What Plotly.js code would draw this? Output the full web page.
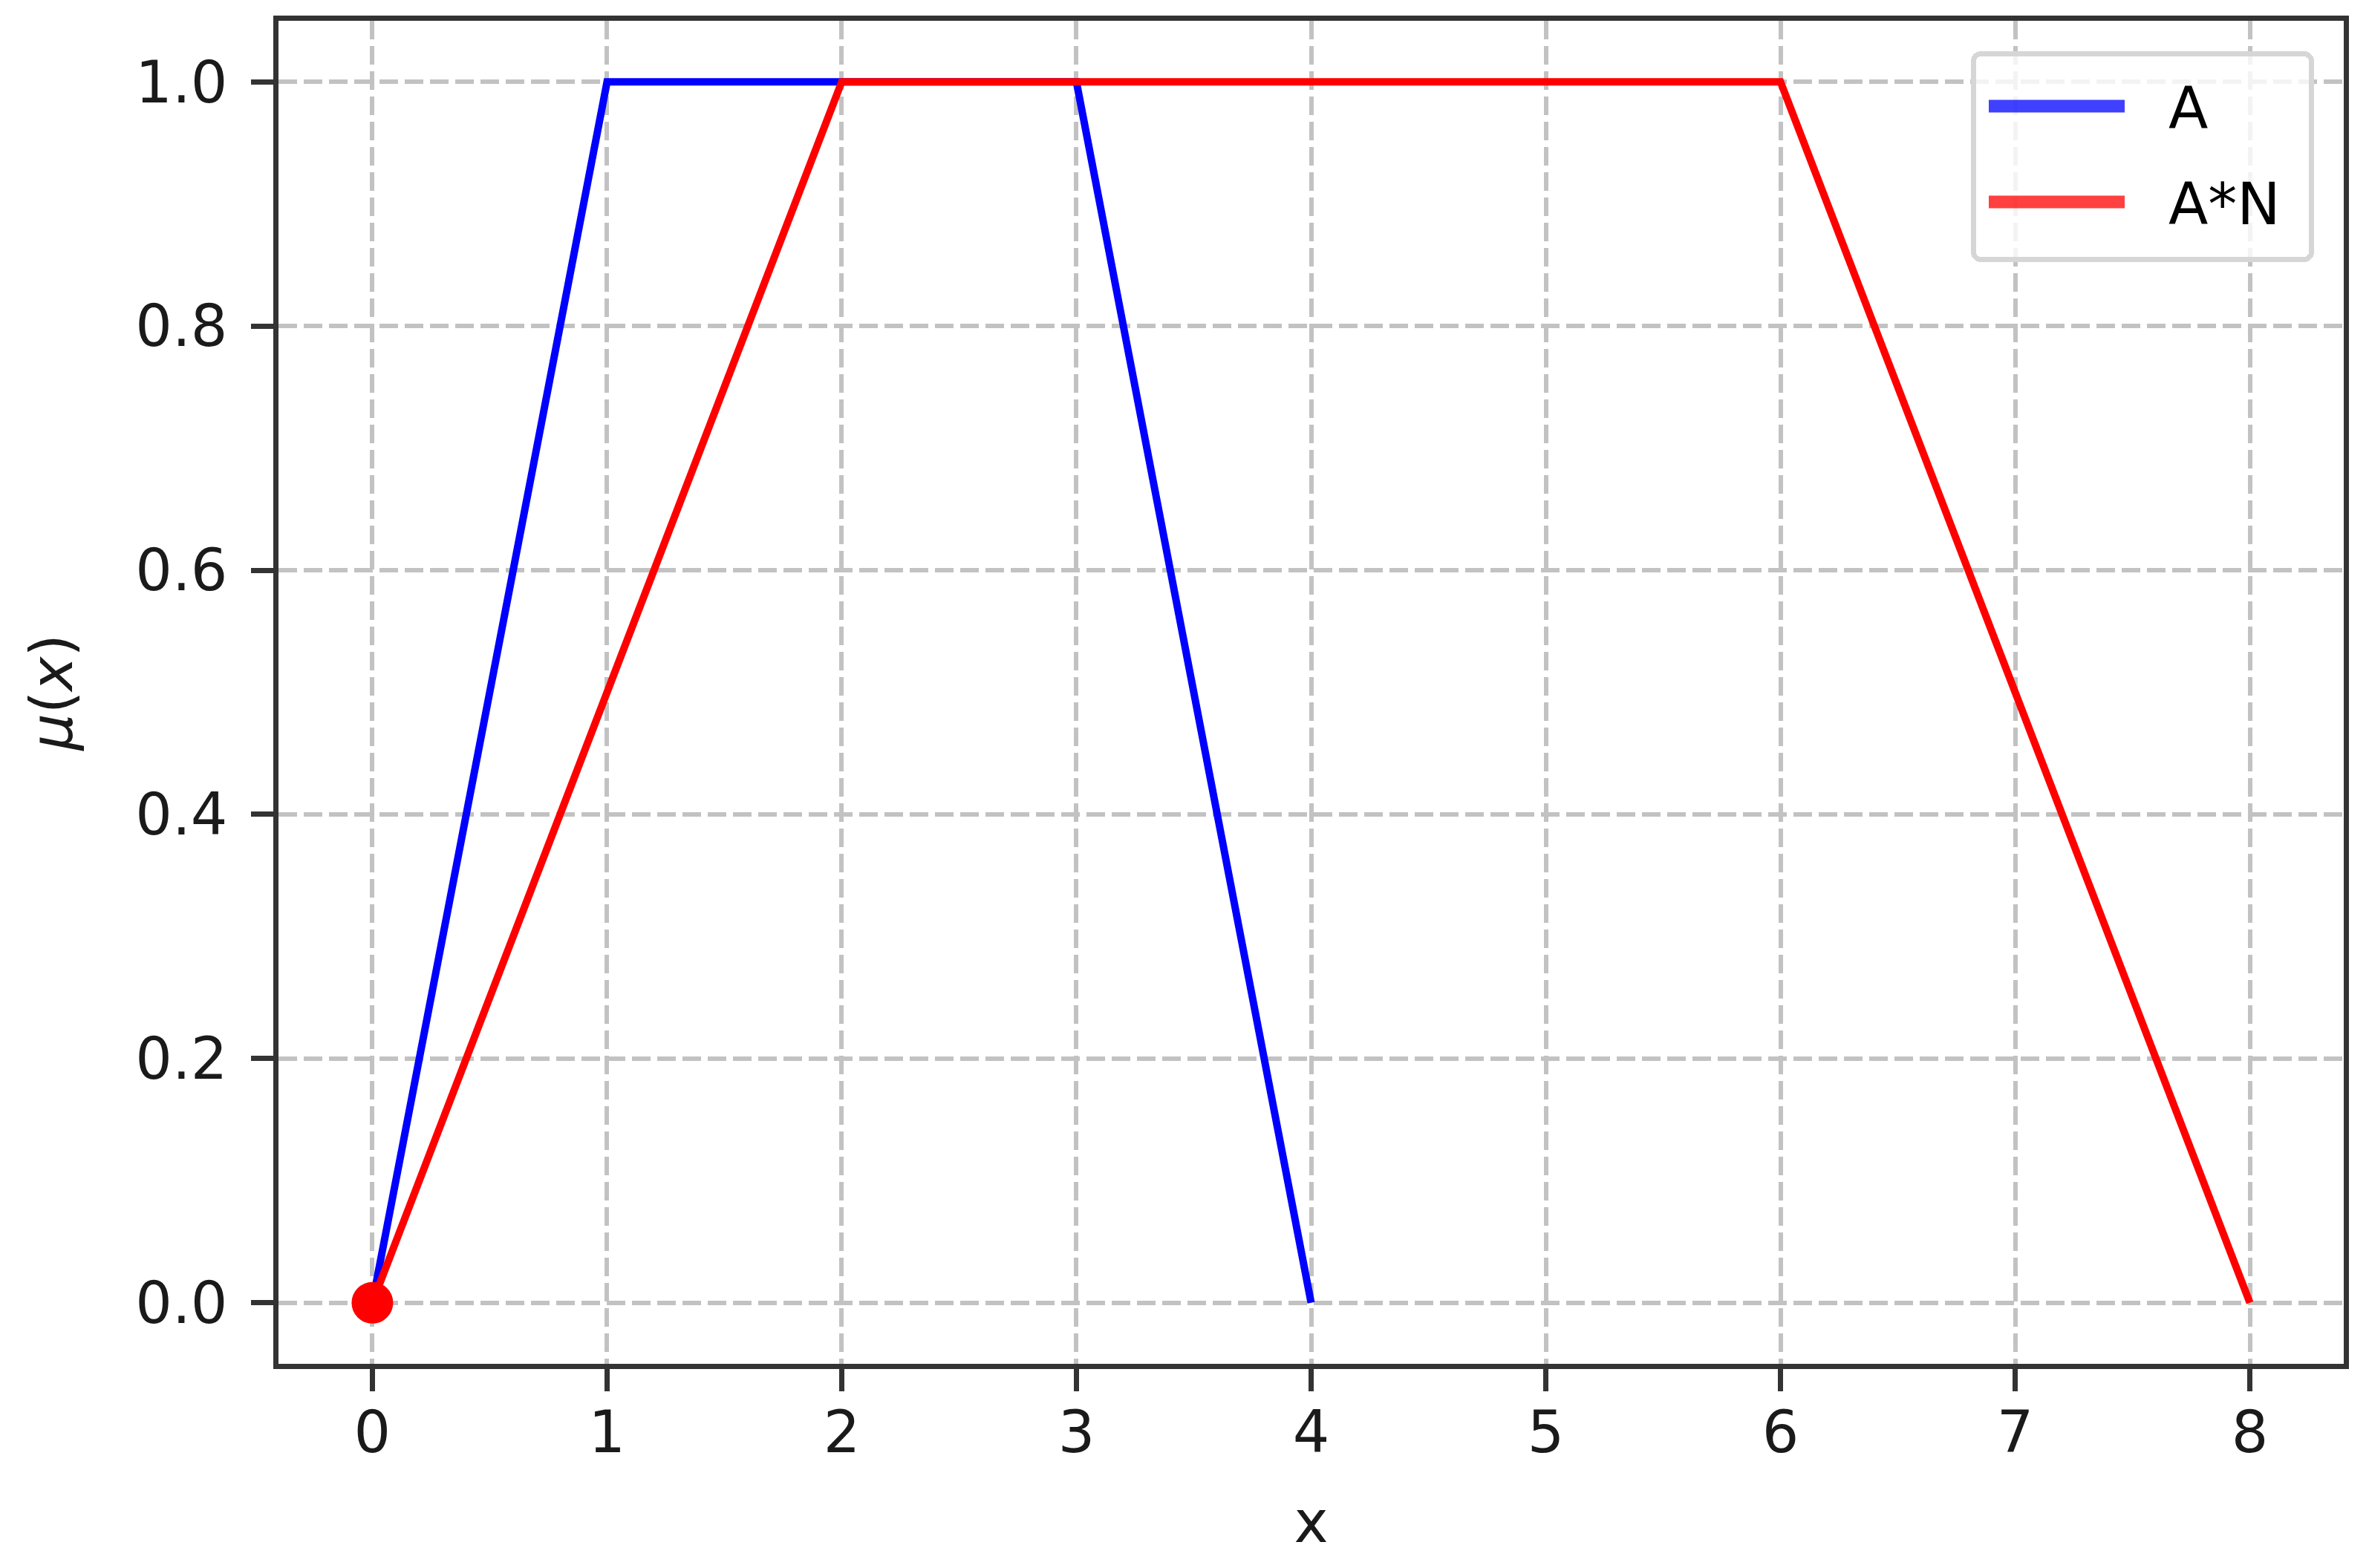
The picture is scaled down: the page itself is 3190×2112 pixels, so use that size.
<!DOCTYPE html>
<html><head><meta charset="utf-8">
<script src="https://cdn.plot.ly/plotly-3.0.1.min.js"></script>
<style>html,body{margin:0;padding:0;background:#fff;}</style>
</head><body>
<div id="chart" style="width:3190px;height:2112px;"></div>
<script>
// Data
const xA = [0, 1, 3, 4];
const yA = [0, 1, 1, 0];
const xAN = [0, 2, 6, 8];
const yAN = [0, 1, 1, 0];
const pointX = [0];
const pointY = [0];
const xTicks = [0, 1, 2, 3, 4, 5, 6, 7, 8];
const yTicks = [0, 0.2, 0.4, 0.6, 0.8, 1.0];
const seriesNames = ['A', 'A*N'];

const FONT = 'DejaVu Sans';
const FS = 78;

const traces = [
  {x: xA, y: yA, name: seriesNames[0], mode: 'lines', line: {color: '#0000ff', width: 10}},
  {x: xAN, y: yAN, name: seriesNames[1], mode: 'lines', line: {color: '#ff0000', width: 10}},
  {x: pointX, y: pointY, mode: 'markers', showlegend: false, marker: {color: '#ff0000', size: 56}}
];

const axisCommon = {
  showline: true, mirror: true, linecolor: '#333333', linewidth: 7,
  ticks: 'outside', ticklen: 30, tickwidth: 7, tickcolor: '#333333',
  showgrid: true, gridcolor: '#c2c2c2', gridwidth: 6, griddash: '25px,9px',
  zeroline: false,
  tickfont: {family: FONT, size: FS, color: '#1a1a1a'}
};

const layout = {
  width: 3190, height: 2112,
  margin: {l: 375, r: 34, t: 28, b: 275},
  paper_bgcolor: '#ffffff', plot_bgcolor: '#ffffff',
  font: {family: FONT, size: FS, color: '#1a1a1a'},
  xaxis: Object.assign({}, axisCommon, {
    range: [-0.4, 8.4], tickmode: 'array', tickvals: xTicks,
    ticktext: xTicks.map(String), ticklabelstandoff: -12,
    title: {text: 'x', font: {family: FONT, size: FS, color: '#1a1a1a'}, standoff: 52}
  }),
  yaxis: Object.assign({}, axisCommon, {
    range: [-0.05, 1.05], tickmode: 'array', tickvals: yTicks,
    ticktext: yTicks.map(v => v.toFixed(1)), ticklabelstandoff: 16,
    title: {text: '<i>μ</i>(<i>x</i>)', font: {family: FONT, size: FS, color: '#1a1a1a'}, standoff: 62}
  }),
  legend: {
    x: 0.9856, xanchor: 'right', y: 0.9773, yanchor: 'top',
    bgcolor: 'rgba(255,255,255,0.8)', bordercolor: '#d6d6d6', borderwidth: 7,
    font: {family: FONT, size: FS, color: '#000000'},
    itemwidth: 230, tracegroupgap: 0
  },
  showlegend: true
};

// Legend geometry (matplotlib-like frame, long line samples)
const LEG_BOX = {x0: 2654, y0: 69, x1: 3116, y1: 353};
const LEG_ROWS = [143, 272];
const LEG_LINE = {x0: 2678, x1: 2861};
const LEG_TEXT_X = 2920;

function fixLegend(gd) {
  const leg = gd.querySelector('.legend');
  if (!leg) return;
  leg.querySelectorAll('[clip-path]').forEach(e => e.removeAttribute('clip-path'));
  const bw = 7;
  const bg = leg.querySelector('rect.bg');
  if (bg) {
    const m = bg.parentNode.getCTM();
    bg.setAttribute('x', LEG_BOX.x0 + bw / 2 - m.e);
    bg.setAttribute('y', LEG_BOX.y0 + bw / 2 - m.f);
    bg.setAttribute('width', LEG_BOX.x1 - LEG_BOX.x0 - bw);
    bg.setAttribute('height', LEG_BOX.y1 - LEG_BOX.y0 - bw);
    bg.setAttribute('rx', 10);
    bg.setAttribute('ry', 10);
  }
  leg.querySelectorAll('g.traces').forEach((t, i) => {
    const m = t.parentNode.getCTM();
    t.setAttribute('transform', 'translate(' + (LEG_LINE.x0 - m.e) + ',' + (LEG_ROWS[i] - m.f) + ')');
    t.querySelectorAll('.legendlines path').forEach(p => {
      p.setAttribute('d', 'M0,0h' + (LEG_LINE.x1 - LEG_LINE.x0));
      p.style.strokeWidth = '17px';
      p.style.strokeOpacity = '0.75';
    });
    const txt = t.querySelector('text.legendtext');
    if (txt) txt.setAttribute('x', LEG_TEXT_X - LEG_LINE.x0);
  });
}

Plotly.newPlot('chart', traces, layout, {staticPlot: true}).then(function(gd) {
  try { fixLegend(gd); } catch (e) { console.error(e); }
});
</script>
</body></html>
